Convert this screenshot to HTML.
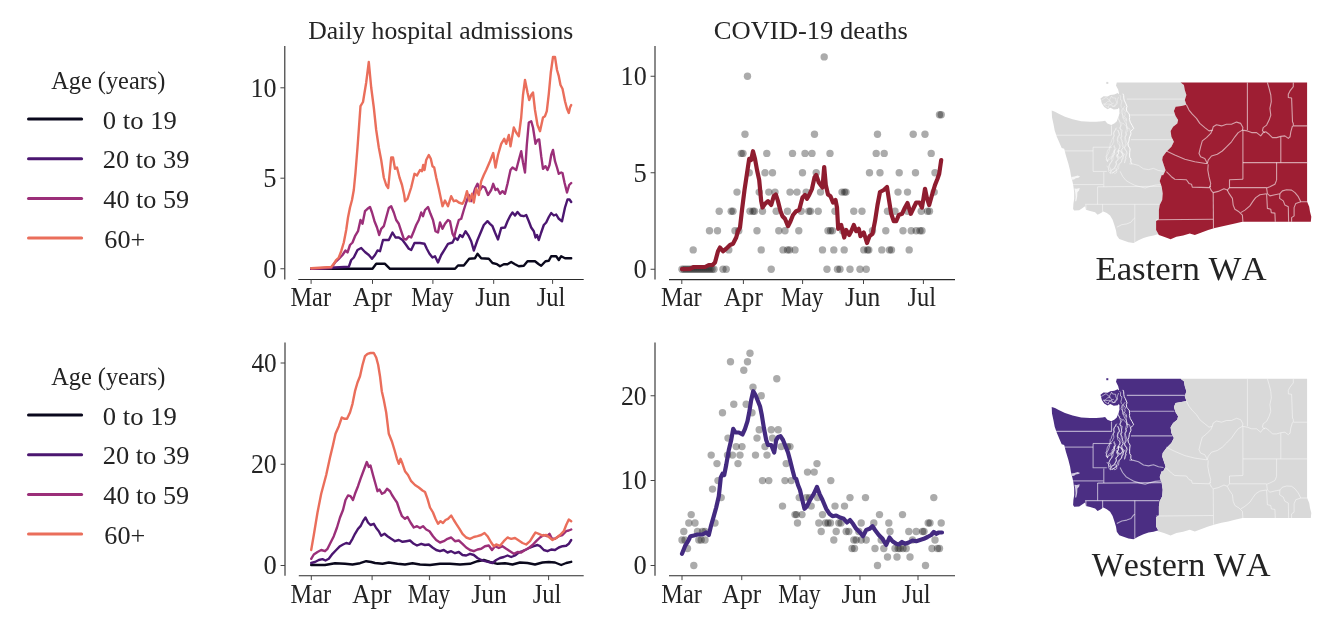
<!DOCTYPE html>
<html lang="en"><head><meta charset="utf-8"><title>COVID-19 hospital admissions and deaths, Eastern and Western WA</title>
<style>html,body{margin:0;padding:0;background:#fff}svg{display:block}</style></head>
<body>
<svg width="1341" height="629" viewBox="0 0 1341 629" font-family='"Liberation Serif", serif' fill="#242424" style="font-kerning:none">
<rect width="1341" height="629" fill="#fff"/>
<text x="308.16" y="39.1" font-size="26" textLength="265.17" lengthAdjust="spacingAndGlyphs">Daily hospital admissions</text>
<text x="713.71" y="39.2" font-size="26" textLength="194.25" lengthAdjust="spacingAndGlyphs">COVID-19 deaths</text>
<text x="51.26" y="88.7" font-size="25.5" textLength="114.11" lengthAdjust="spacingAndGlyphs">Age (years)</text>
<line x1="28.5" y1="119.0" x2="81.6" y2="119.0" stroke="#0a081c" stroke-width="3" stroke-linecap="round"/>
<text x="102.89" y="128.6" font-size="25" textLength="73.90" lengthAdjust="spacingAndGlyphs">0 to 19</text>
<line x1="28.5" y1="158.7" x2="81.6" y2="158.7" stroke="#4b1670" stroke-width="3" stroke-linecap="round"/>
<text x="102.74" y="168.3" font-size="25" textLength="86.65" lengthAdjust="spacingAndGlyphs">20 to 39</text>
<line x1="28.5" y1="198.4" x2="81.6" y2="198.4" stroke="#9b2f79" stroke-width="3" stroke-linecap="round"/>
<text x="103.39" y="208.0" font-size="25" textLength="85.78" lengthAdjust="spacingAndGlyphs">40 to 59</text>
<line x1="28.5" y1="238.1" x2="81.6" y2="238.1" stroke="#ea6e5b" stroke-width="3" stroke-linecap="round"/>
<text x="104.38" y="247.7" font-size="25" textLength="40.90" lengthAdjust="spacingAndGlyphs">60+</text>
<text x="51.26" y="384.7" font-size="25.5" textLength="114.11" lengthAdjust="spacingAndGlyphs">Age (years)</text>
<line x1="28.5" y1="415.0" x2="81.6" y2="415.0" stroke="#0a081c" stroke-width="3" stroke-linecap="round"/>
<text x="102.89" y="424.6" font-size="25" textLength="73.90" lengthAdjust="spacingAndGlyphs">0 to 19</text>
<line x1="28.5" y1="454.7" x2="81.6" y2="454.7" stroke="#4b1670" stroke-width="3" stroke-linecap="round"/>
<text x="102.74" y="464.3" font-size="25" textLength="86.65" lengthAdjust="spacingAndGlyphs">20 to 39</text>
<line x1="28.5" y1="494.4" x2="81.6" y2="494.4" stroke="#9b2f79" stroke-width="3" stroke-linecap="round"/>
<text x="103.39" y="504.0" font-size="25" textLength="85.78" lengthAdjust="spacingAndGlyphs">40 to 59</text>
<line x1="28.5" y1="534.1" x2="81.6" y2="534.1" stroke="#ea6e5b" stroke-width="3" stroke-linecap="round"/>
<text x="104.38" y="543.7" font-size="25" textLength="40.90" lengthAdjust="spacingAndGlyphs">60+</text>
<g stroke="#2a2a2a" stroke-width="1.1" fill="none">
<line x1="284.8" y1="46" x2="284.8" y2="279.5"/>
<line x1="298.3" y1="279.5" x2="583.7" y2="279.5"/>
<line x1="311.1" y1="279.5" x2="311.1" y2="283.9" stroke-width="1" stroke="#444"/>
<line x1="372.5" y1="279.5" x2="372.5" y2="283.9" stroke-width="1" stroke="#444"/>
<line x1="432.9" y1="279.5" x2="432.9" y2="283.9" stroke-width="1" stroke="#444"/>
<line x1="493.7" y1="279.5" x2="493.7" y2="283.9" stroke-width="1" stroke="#444"/>
<line x1="552.6" y1="279.5" x2="552.6" y2="283.9" stroke-width="1" stroke="#444"/>
<line x1="280.40000000000003" y1="268.75" x2="284.8" y2="268.75" stroke-width="1" stroke="#444"/>
<line x1="280.40000000000003" y1="178.2" x2="284.8" y2="178.2" stroke-width="1" stroke="#444"/>
<line x1="280.40000000000003" y1="87.8" x2="284.8" y2="87.8" stroke-width="1" stroke="#444"/>
</g>
<text x="290.40" y="306.3" font-size="26.5" textLength="40.62" lengthAdjust="spacingAndGlyphs">Mar</text>
<text x="352.75" y="306.3" font-size="26.5" textLength="39.17" lengthAdjust="spacingAndGlyphs">Apr</text>
<text x="411.24" y="306.3" font-size="26.5" textLength="42.25" lengthAdjust="spacingAndGlyphs">May</text>
<text x="475.16" y="306.3" font-size="26.5" textLength="35.42" lengthAdjust="spacingAndGlyphs">Jun</text>
<text x="536.69" y="306.3" font-size="26.5" textLength="28.61" lengthAdjust="spacingAndGlyphs">Jul</text>
<text x="263.26" y="277.6" font-size="26.5">0</text>
<text x="263.29" y="187.1" font-size="26.5">5</text>
<text x="250.41" y="96.7" font-size="26.5" textLength="26.09" lengthAdjust="spacingAndGlyphs">10</text>
<polyline points="311.2,268.8 372.5,268.8 376.2,263.8 385.0,263.8 390.0,268.8 455.0,268.8 458.0,265.5 463.8,265.5 469.2,258.8 475.0,258.2 477.5,253.8 481.2,258.2 488.8,258.8 492.5,263.0 497.0,264.2 500.0,266.2 503.8,264.2 507.5,264.2 511.2,262.0 515.0,264.2 518.8,266.2 523.8,265.8 527.5,261.2 535.0,261.2 538.8,264.2 541.2,265.8 545.5,261.2 548.8,260.8 551.2,256.2 556.2,256.2 558.8,260.0 561.2,256.2 565.0,258.2 571.2,258.2" fill="none" stroke="#0a081c" stroke-width="2.4" stroke-linejoin="round" stroke-linecap="round"/>
<polyline points="311.2,268.8 348.8,266.8 351.2,260.0 353.8,257.5 357.5,250.0 361.2,248.0 365.0,252.0 368.8,255.0 372.0,258.8 375.0,255.0 377.5,250.5 380.0,251.2 383.0,240.0 388.8,240.0 392.5,232.5 395.5,237.5 398.8,237.5 402.5,240.0 406.2,245.0 408.8,248.8 411.2,250.0 414.5,243.0 420.0,243.0 424.5,243.8 426.8,248.8 429.5,253.8 432.5,257.5 435.0,256.2 438.0,262.5 441.2,255.0 445.0,248.8 448.0,243.8 452.5,242.5 455.0,237.5 457.5,240.0 460.0,235.0 462.5,237.0 465.5,231.2 468.8,236.2 471.2,241.2 473.8,250.5 477.5,240.0 481.2,231.2 483.8,225.0 487.5,221.2 490.0,223.8 492.5,226.2 495.0,232.5 498.0,239.5 501.2,228.0 505.0,227.5 507.5,221.2 510.0,216.2 512.5,212.5 515.0,215.5 517.5,212.0 520.5,215.5 523.8,216.2 526.2,215.0 528.8,221.2 531.2,227.5 533.8,231.2 535.5,237.5 537.0,235.0 538.8,240.0 541.2,232.5 543.8,225.0 546.2,222.5 548.8,217.0 551.2,213.0 553.8,215.5 556.2,214.5 558.8,218.8 562.0,221.2 565.0,207.5 567.5,199.5 569.5,199.5 571.2,202.0" fill="none" stroke="#4b1670" stroke-width="2.4" stroke-linejoin="round" stroke-linecap="round"/>
<polyline points="311.2,268.8 331.2,268.0 335.0,262.5 338.8,258.8 342.5,255.0 345.5,250.5 347.5,252.5 350.0,245.0 352.5,242.5 355.0,236.2 358.0,231.2 360.5,220.0 362.5,223.8 365.0,211.2 367.5,208.8 370.0,207.0 372.0,212.5 374.5,221.2 377.0,227.5 379.2,235.0 381.2,228.8 383.8,226.2 386.2,217.5 388.8,208.0 391.2,206.2 393.8,212.5 396.2,220.0 398.8,223.8 401.2,231.2 403.8,238.8 406.2,239.5 408.8,236.2 411.2,237.5 413.8,231.2 416.2,225.0 418.8,220.0 421.2,212.5 423.0,216.2 425.0,210.0 428.0,207.0 430.5,213.8 433.0,220.0 435.5,231.2 438.0,232.5 440.0,222.5 442.5,228.8 445.0,223.8 448.0,220.0 450.0,221.2 452.5,233.8 454.2,237.0 456.2,228.8 458.8,220.0 461.2,218.8 463.8,210.0 466.2,202.5 468.8,195.0 471.2,201.2 475.0,188.8 477.5,183.8 480.0,190.0 482.5,186.2 485.0,187.5 488.0,195.0 491.2,190.0 493.2,183.8 495.5,190.0 497.5,188.8 500.0,193.8 502.5,191.2 505.0,193.8 507.5,183.8 510.5,170.0 512.5,167.5 516.2,170.0 518.8,160.0 521.2,151.2 523.0,162.5 525.0,172.5 526.8,145.0 528.8,122.5 531.2,121.2 533.0,127.5 535.5,143.8 537.5,140.0 539.2,139.5 541.2,156.2 543.0,168.8 545.5,166.2 547.5,170.0 549.5,165.0 551.2,155.0 553.0,150.0 555.0,161.2 557.0,167.5 558.8,173.8 561.2,172.5 562.5,173.0 564.5,182.5 567.0,192.5 569.2,185.0 571.2,183.0" fill="none" stroke="#9b2f79" stroke-width="2.4" stroke-linejoin="round" stroke-linecap="round"/>
<polyline points="311.2,268.2 331.2,267.0 333.8,263.8 336.2,260.0 338.8,257.5 341.2,251.2 343.8,242.5 346.2,230.0 348.0,217.5 350.0,207.5 352.0,200.0 353.8,190.0 355.5,172.5 357.5,147.5 360.5,106.2 363.0,102.0 366.2,82.5 368.8,62.0 371.2,87.5 373.8,107.5 376.2,130.0 378.8,147.5 381.2,160.0 383.8,177.5 386.2,185.0 388.2,188.0 390.0,170.0 391.2,157.5 393.0,157.5 395.0,168.8 397.0,167.5 399.5,177.5 402.0,185.0 404.2,195.0 405.0,201.2 407.5,198.8 411.2,187.5 414.5,173.8 417.0,175.5 420.0,170.0 422.0,171.2 423.2,165.0 424.5,170.0 426.2,160.0 428.8,155.0 430.8,158.8 432.5,166.2 434.2,167.5 436.2,177.5 438.8,188.8 441.2,200.0 442.5,206.2 445.0,200.5 448.0,206.2 451.2,196.2 453.8,201.2 456.2,200.5 458.8,202.5 462.5,203.8 464.5,200.0 467.0,191.2 469.5,201.2 472.0,193.8 473.8,202.5 476.2,188.8 478.8,195.0 481.2,181.2 483.8,175.0 486.2,170.0 490.0,161.2 493.2,153.0 495.5,167.5 498.0,155.0 501.2,143.8 504.2,138.8 506.2,143.8 508.8,135.0 510.5,146.2 513.8,127.5 516.2,132.5 518.8,136.2 521.2,117.5 523.0,95.0 525.0,80.0 527.5,92.5 529.2,100.0 531.2,95.0 533.0,92.5 535.0,110.0 537.5,125.0 540.0,131.2 543.0,117.5 545.0,116.2 546.8,111.2 548.8,93.8 550.8,72.5 553.0,57.0 555.0,57.0 557.0,70.0 558.8,76.2 560.5,85.0 562.5,88.8 565.0,101.2 567.0,108.8 568.8,113.0 570.0,107.5 571.2,105.0" fill="none" stroke="#ea6e5b" stroke-width="2.4" stroke-linejoin="round" stroke-linecap="round"/>
<g stroke="#2a2a2a" stroke-width="1.1" fill="none">
<line x1="655" y1="46" x2="655" y2="279.6"/>
<line x1="669" y1="279.6" x2="955" y2="279.6"/>
<line x1="681.8" y1="279.6" x2="681.8" y2="284.0" stroke-width="1" stroke="#444"/>
<line x1="743.4" y1="279.6" x2="743.4" y2="284.0" stroke-width="1" stroke="#444"/>
<line x1="802.6" y1="279.6" x2="802.6" y2="284.0" stroke-width="1" stroke="#444"/>
<line x1="863.5" y1="279.6" x2="863.5" y2="284.0" stroke-width="1" stroke="#444"/>
<line x1="923.4" y1="279.6" x2="923.4" y2="284.0" stroke-width="1" stroke="#444"/>
<line x1="650.6" y1="269.25" x2="655" y2="269.25" stroke-width="1" stroke="#444"/>
<line x1="650.6" y1="172.75" x2="655" y2="172.75" stroke-width="1" stroke="#444"/>
<line x1="650.6" y1="76.25" x2="655" y2="76.25" stroke-width="1" stroke="#444"/>
</g>
<text x="661.10" y="306.4" font-size="26.5" textLength="40.62" lengthAdjust="spacingAndGlyphs">Mar</text>
<text x="723.65" y="306.4" font-size="26.5" textLength="39.17" lengthAdjust="spacingAndGlyphs">Apr</text>
<text x="780.94" y="306.4" font-size="26.5" textLength="42.25" lengthAdjust="spacingAndGlyphs">May</text>
<text x="844.96" y="306.4" font-size="26.5" textLength="35.42" lengthAdjust="spacingAndGlyphs">Jun</text>
<text x="907.49" y="306.4" font-size="26.5" textLength="28.61" lengthAdjust="spacingAndGlyphs">Jul</text>
<text x="633.46" y="278.1" font-size="26.5">0</text>
<text x="633.49" y="181.7" font-size="26.5">5</text>
<text x="620.61" y="85.2" font-size="26.5" textLength="26.09" lengthAdjust="spacingAndGlyphs">10</text>
<g fill="#000" fill-opacity="0.33">
<circle cx="682.0" cy="269.2" r="3.7"/>
<circle cx="684.0" cy="269.2" r="3.7"/>
<circle cx="686.0" cy="269.2" r="3.7"/>
<circle cx="688.0" cy="269.2" r="3.7"/>
<circle cx="690.0" cy="269.2" r="3.7"/>
<circle cx="692.0" cy="269.2" r="3.7"/>
<circle cx="694.0" cy="269.2" r="3.7"/>
<circle cx="696.0" cy="269.2" r="3.7"/>
<circle cx="698.0" cy="269.2" r="3.7"/>
<circle cx="700.0" cy="269.2" r="3.7"/>
<circle cx="702.0" cy="269.2" r="3.7"/>
<circle cx="704.0" cy="269.2" r="3.7"/>
<circle cx="706.0" cy="269.2" r="3.7"/>
<circle cx="708.0" cy="269.2" r="3.7"/>
<circle cx="710.0" cy="269.2" r="3.7"/>
<circle cx="712.0" cy="269.2" r="3.7"/>
<circle cx="714.0" cy="269.2" r="3.7"/>
<circle cx="723.0" cy="269.2" r="3.7"/>
<circle cx="726.2" cy="269.2" r="3.7"/>
<circle cx="771.2" cy="269.2" r="3.7"/>
<circle cx="827.0" cy="269.2" r="3.7"/>
<circle cx="837.5" cy="269.2" r="3.7"/>
<circle cx="840.0" cy="269.2" r="3.7"/>
<circle cx="850.0" cy="269.2" r="3.7"/>
<circle cx="860.0" cy="269.2" r="3.7"/>
<circle cx="866.2" cy="269.2" r="3.7"/>
<circle cx="693.2" cy="249.9" r="3.7"/>
<circle cx="728.8" cy="249.9" r="3.7"/>
<circle cx="761.2" cy="249.9" r="3.7"/>
<circle cx="783.0" cy="249.9" r="3.7"/>
<circle cx="787.5" cy="249.9" r="3.7"/>
<circle cx="789.5" cy="249.9" r="3.7"/>
<circle cx="795.0" cy="249.9" r="3.7"/>
<circle cx="822.5" cy="249.9" r="3.7"/>
<circle cx="833.8" cy="249.9" r="3.7"/>
<circle cx="844.2" cy="249.9" r="3.7"/>
<circle cx="863.8" cy="249.9" r="3.7"/>
<circle cx="867.5" cy="249.9" r="3.7"/>
<circle cx="868.8" cy="249.9" r="3.7"/>
<circle cx="881.8" cy="249.9" r="3.7"/>
<circle cx="889.5" cy="249.9" r="3.7"/>
<circle cx="891.5" cy="249.9" r="3.7"/>
<circle cx="909.2" cy="249.9" r="3.7"/>
<circle cx="709.5" cy="230.7" r="3.7"/>
<circle cx="717.5" cy="230.7" r="3.7"/>
<circle cx="735.0" cy="230.7" r="3.7"/>
<circle cx="738.8" cy="230.7" r="3.7"/>
<circle cx="757.0" cy="230.7" r="3.7"/>
<circle cx="778.8" cy="230.7" r="3.7"/>
<circle cx="785.0" cy="230.7" r="3.7"/>
<circle cx="798.8" cy="230.7" r="3.7"/>
<circle cx="828.0" cy="230.7" r="3.7"/>
<circle cx="830.5" cy="230.7" r="3.7"/>
<circle cx="832.5" cy="230.7" r="3.7"/>
<circle cx="842.5" cy="230.7" r="3.7"/>
<circle cx="872.5" cy="230.7" r="3.7"/>
<circle cx="885.8" cy="230.7" r="3.7"/>
<circle cx="903.0" cy="230.7" r="3.7"/>
<circle cx="911.2" cy="230.7" r="3.7"/>
<circle cx="916.2" cy="230.7" r="3.7"/>
<circle cx="920.0" cy="230.7" r="3.7"/>
<circle cx="922.0" cy="230.7" r="3.7"/>
<circle cx="719.2" cy="211.3" r="3.7"/>
<circle cx="731.2" cy="211.3" r="3.7"/>
<circle cx="733.0" cy="211.3" r="3.7"/>
<circle cx="750.0" cy="211.3" r="3.7"/>
<circle cx="753.0" cy="211.3" r="3.7"/>
<circle cx="754.5" cy="211.3" r="3.7"/>
<circle cx="762.5" cy="211.3" r="3.7"/>
<circle cx="776.2" cy="211.3" r="3.7"/>
<circle cx="787.5" cy="211.3" r="3.7"/>
<circle cx="801.2" cy="211.3" r="3.7"/>
<circle cx="808.8" cy="211.3" r="3.7"/>
<circle cx="810.5" cy="211.3" r="3.7"/>
<circle cx="818.2" cy="211.3" r="3.7"/>
<circle cx="835.0" cy="211.3" r="3.7"/>
<circle cx="853.8" cy="211.3" r="3.7"/>
<circle cx="862.0" cy="211.3" r="3.7"/>
<circle cx="887.5" cy="211.3" r="3.7"/>
<circle cx="895.0" cy="211.3" r="3.7"/>
<circle cx="907.5" cy="211.3" r="3.7"/>
<circle cx="921.2" cy="211.3" r="3.7"/>
<circle cx="927.5" cy="211.3" r="3.7"/>
<circle cx="929.5" cy="211.3" r="3.7"/>
<circle cx="737.0" cy="192.1" r="3.7"/>
<circle cx="759.2" cy="192.1" r="3.7"/>
<circle cx="768.8" cy="192.1" r="3.7"/>
<circle cx="775.0" cy="192.1" r="3.7"/>
<circle cx="790.0" cy="192.1" r="3.7"/>
<circle cx="797.0" cy="192.1" r="3.7"/>
<circle cx="806.2" cy="192.1" r="3.7"/>
<circle cx="820.5" cy="192.1" r="3.7"/>
<circle cx="842.0" cy="192.1" r="3.7"/>
<circle cx="844.5" cy="192.1" r="3.7"/>
<circle cx="846.0" cy="192.1" r="3.7"/>
<circle cx="898.0" cy="192.1" r="3.7"/>
<circle cx="907.5" cy="192.1" r="3.7"/>
<circle cx="934.2" cy="192.1" r="3.7"/>
<circle cx="749.2" cy="172.8" r="3.7"/>
<circle cx="765.0" cy="172.8" r="3.7"/>
<circle cx="772.5" cy="172.8" r="3.7"/>
<circle cx="802.5" cy="172.8" r="3.7"/>
<circle cx="816.2" cy="172.8" r="3.7"/>
<circle cx="869.5" cy="172.8" r="3.7"/>
<circle cx="880.0" cy="172.8" r="3.7"/>
<circle cx="899.2" cy="172.8" r="3.7"/>
<circle cx="915.5" cy="172.8" r="3.7"/>
<circle cx="935.0" cy="172.8" r="3.7"/>
<circle cx="741.2" cy="153.4" r="3.7"/>
<circle cx="743.0" cy="153.4" r="3.7"/>
<circle cx="766.8" cy="153.4" r="3.7"/>
<circle cx="792.5" cy="153.4" r="3.7"/>
<circle cx="805.0" cy="153.4" r="3.7"/>
<circle cx="812.0" cy="153.4" r="3.7"/>
<circle cx="830.0" cy="153.4" r="3.7"/>
<circle cx="876.2" cy="153.4" r="3.7"/>
<circle cx="884.2" cy="153.4" r="3.7"/>
<circle cx="931.2" cy="153.4" r="3.7"/>
<circle cx="745.0" cy="134.2" r="3.7"/>
<circle cx="814.5" cy="134.2" r="3.7"/>
<circle cx="877.5" cy="134.2" r="3.7"/>
<circle cx="913.2" cy="134.2" r="3.7"/>
<circle cx="925.0" cy="134.2" r="3.7"/>
<circle cx="939.5" cy="114.8" r="3.7"/>
<circle cx="941.2" cy="114.8" r="3.7"/>
<circle cx="747.5" cy="76.2" r="3.7"/>
<circle cx="824.2" cy="56.9" r="3.7"/>
</g>
<polyline points="682.0,269.2 690.0,268.8 693.8,267.0 705.0,267.0 708.8,265.0 712.5,265.0 715.0,262.5 718.0,251.2 720.0,247.5 723.0,251.2 726.2,248.8 730.0,245.0 733.0,243.8 736.2,237.5 738.0,231.2 740.0,227.5 742.0,210.0 744.5,190.0 747.5,170.0 749.2,158.8 751.2,160.0 753.0,151.2 755.0,158.8 757.0,170.0 759.2,180.0 761.2,201.2 762.5,207.5 765.0,203.8 768.0,201.2 771.2,205.0 773.8,196.2 775.8,194.5 778.0,201.2 780.5,211.2 782.5,216.2 785.0,218.8 788.0,226.2 790.5,221.2 793.0,215.0 796.2,211.2 799.2,210.0 802.5,197.5 805.0,195.0 807.0,198.8 809.2,195.0 812.0,188.8 814.5,177.5 816.2,175.0 818.8,182.5 822.5,187.5 824.2,167.0 825.8,185.0 828.0,194.5 830.5,196.2 833.0,202.5 835.5,200.0 837.0,207.5 838.2,228.8 841.2,225.0 844.2,237.5 846.2,230.0 849.2,235.0 851.2,231.2 853.8,225.0 856.2,231.2 858.8,228.8 860.5,236.2 863.8,232.5 867.0,243.0 869.5,236.2 872.5,233.8 875.0,221.2 877.5,205.0 880.0,192.0 883.8,190.0 887.0,187.0 888.8,198.8 891.2,213.8 893.8,221.2 896.2,221.2 898.8,215.0 902.0,213.8 905.0,207.5 907.5,203.0 910.8,213.8 913.8,207.5 916.2,202.5 919.5,202.5 922.0,207.5 925.0,188.8 926.8,197.5 929.2,205.0 932.0,195.0 935.0,185.0 937.5,178.8 939.2,173.8 941.2,160.0" fill="none" stroke="#8f1c2f" stroke-width="4.2" stroke-linejoin="round" stroke-linecap="round"/>
<g stroke="#2a2a2a" stroke-width="1.1" fill="none">
<line x1="285" y1="342.5" x2="285" y2="575.7"/>
<line x1="298.8" y1="575.7" x2="583.7" y2="575.7"/>
<line x1="311.3" y1="575.7" x2="311.3" y2="580.1" stroke-width="1" stroke="#444"/>
<line x1="372.1" y1="575.7" x2="372.1" y2="580.1" stroke-width="1" stroke="#444"/>
<line x1="429.4" y1="575.7" x2="429.4" y2="580.1" stroke-width="1" stroke="#444"/>
<line x1="489.8" y1="575.7" x2="489.8" y2="580.1" stroke-width="1" stroke="#444"/>
<line x1="548.6" y1="575.7" x2="548.6" y2="580.1" stroke-width="1" stroke="#444"/>
<line x1="280.6" y1="565.5" x2="285" y2="565.5" stroke-width="1" stroke="#444"/>
<line x1="280.6" y1="464.25" x2="285" y2="464.25" stroke-width="1" stroke="#444"/>
<line x1="280.6" y1="363" x2="285" y2="363" stroke-width="1" stroke="#444"/>
</g>
<text x="290.60" y="602.5" font-size="26.5" textLength="40.62" lengthAdjust="spacingAndGlyphs">Mar</text>
<text x="352.35" y="602.5" font-size="26.5" textLength="39.17" lengthAdjust="spacingAndGlyphs">Apr</text>
<text x="407.74" y="602.5" font-size="26.5" textLength="42.25" lengthAdjust="spacingAndGlyphs">May</text>
<text x="471.26" y="602.5" font-size="26.5" textLength="35.42" lengthAdjust="spacingAndGlyphs">Jun</text>
<text x="532.69" y="602.5" font-size="26.5" textLength="28.61" lengthAdjust="spacingAndGlyphs">Jul</text>
<text x="263.46" y="574.4" font-size="26.5">0</text>
<text x="250.97" y="473.1" font-size="26.5" textLength="25.71" lengthAdjust="spacingAndGlyphs">20</text>
<text x="251.41" y="371.9" font-size="26.5" textLength="25.26" lengthAdjust="spacingAndGlyphs">40</text>
<polyline points="311.2,565.0 325.0,565.0 335.0,563.2 345.0,563.8 352.5,564.5 360.0,563.2 366.2,561.2 371.2,562.0 375.0,563.0 382.5,563.8 388.8,562.5 397.5,563.8 405.0,564.5 412.5,563.2 420.0,564.5 430.0,565.0 440.0,563.8 450.0,563.8 460.0,564.5 470.0,563.8 477.5,561.2 483.8,560.0 490.0,562.0 497.5,563.8 505.0,563.2 512.5,564.5 520.0,562.5 527.5,563.0 535.0,564.5 542.5,562.5 548.8,562.0 555.0,562.5 561.2,565.0 566.2,563.0 571.2,561.8" fill="none" stroke="#0a081c" stroke-width="2.4" stroke-linejoin="round" stroke-linecap="round"/>
<polyline points="311.2,563.0 315.0,562.0 318.8,560.0 322.5,559.2 325.5,560.5 328.8,558.8 332.5,553.8 336.2,550.0 340.0,546.2 343.0,544.5 346.2,543.0 349.5,543.8 352.5,538.8 355.0,533.8 358.0,528.8 360.5,526.2 363.0,521.2 365.5,517.5 368.0,522.5 370.5,525.0 373.8,523.8 376.2,528.0 378.8,531.2 381.2,535.8 384.5,533.8 387.5,536.2 391.2,538.8 395.0,541.2 398.8,540.0 402.5,541.8 406.2,541.2 410.0,540.5 413.8,543.8 417.0,545.5 421.2,543.8 425.0,545.0 428.8,544.5 432.5,547.5 436.2,550.0 440.0,551.2 443.8,550.0 447.5,552.5 451.2,551.2 455.0,553.2 458.8,552.0 462.5,555.0 466.2,555.5 470.0,553.8 473.8,555.0 477.5,558.0 481.2,560.0 485.0,561.2 488.8,562.0 492.5,563.0 496.2,560.0 500.0,558.0 503.8,557.0 507.5,555.5 511.2,557.0 515.0,555.5 518.8,552.5 522.5,551.2 526.2,549.5 530.0,547.5 533.8,546.2 537.5,545.0 540.0,546.2 543.8,550.0 547.5,551.2 551.2,549.5 555.0,550.0 558.8,547.5 562.5,546.2 566.2,545.8 568.8,543.8 571.2,540.0" fill="none" stroke="#4b1670" stroke-width="2.4" stroke-linejoin="round" stroke-linecap="round"/>
<polyline points="311.2,558.8 313.8,554.5 317.5,552.0 321.2,550.0 325.0,551.2 327.5,548.8 330.0,543.8 333.8,536.2 337.0,527.5 340.0,517.5 343.0,510.0 345.5,500.0 348.0,495.5 350.5,496.2 353.0,500.0 355.0,493.8 358.0,486.2 360.5,478.8 363.8,470.0 366.8,462.0 368.8,467.0 370.5,465.5 373.0,475.0 375.8,485.0 377.5,491.2 379.5,489.5 382.0,493.8 384.5,492.5 387.0,488.8 390.0,491.2 392.0,495.0 394.5,498.8 397.0,502.5 399.5,510.0 402.0,516.2 405.0,518.8 407.5,517.0 410.5,522.5 413.8,527.5 417.0,526.2 420.0,528.0 423.0,526.2 426.2,529.5 429.5,531.2 433.0,536.2 436.2,540.0 440.0,542.5 443.8,541.2 447.5,538.8 451.2,537.5 455.0,541.2 458.8,540.5 462.5,543.8 466.2,547.5 470.0,550.0 473.8,551.2 477.5,549.5 481.2,548.8 485.0,546.2 488.8,545.5 492.0,550.0 495.0,546.2 498.8,548.0 502.5,546.2 506.2,548.8 510.0,551.2 513.8,553.8 517.5,552.0 521.2,552.5 525.0,550.0 528.8,548.0 532.5,545.0 536.2,541.2 540.0,537.5 543.8,535.0 547.0,536.2 549.5,533.8 552.0,538.8 555.0,538.8 558.8,536.2 562.5,535.0 566.2,531.2 568.8,530.5 571.2,529.5" fill="none" stroke="#9b2f79" stroke-width="2.4" stroke-linejoin="round" stroke-linecap="round"/>
<polyline points="311.2,550.0 313.8,535.0 317.5,512.5 321.2,493.8 326.2,475.0 330.0,457.5 333.0,445.0 335.5,433.8 338.8,426.2 341.8,417.5 344.5,418.8 347.0,418.8 350.0,412.5 352.5,403.8 355.0,391.2 357.5,382.5 360.0,376.2 362.5,365.0 365.0,356.2 367.5,353.8 370.5,353.0 373.8,353.0 376.2,357.5 378.2,365.0 380.0,376.2 381.8,391.2 383.8,400.0 386.2,412.5 388.8,433.8 391.8,441.2 394.5,450.0 397.0,458.8 398.8,463.8 400.5,458.8 402.5,463.8 405.0,471.2 408.0,475.0 411.2,481.2 415.0,485.0 418.8,487.5 422.5,490.5 425.0,492.0 427.5,498.8 430.0,507.5 433.0,512.5 435.5,518.8 438.0,523.8 440.5,521.2 443.0,523.0 445.5,520.0 448.0,518.8 451.2,515.5 453.8,520.0 456.2,523.8 459.5,528.8 462.5,533.8 466.2,537.5 470.0,538.8 473.8,537.0 477.5,536.2 481.2,535.0 484.5,533.0 487.5,536.2 491.2,542.5 493.8,546.2 496.2,544.5 500.0,545.8 503.8,541.2 507.5,537.5 511.2,538.8 515.0,538.0 518.8,540.5 522.5,543.0 526.2,544.5 530.0,541.2 533.8,535.0 535.5,532.5 538.8,533.8 542.5,535.5 546.2,535.0 549.5,537.5 552.5,540.0 556.2,538.0 560.0,535.0 563.8,531.2 566.2,525.0 568.8,519.5 571.2,521.2" fill="none" stroke="#ea6e5b" stroke-width="2.4" stroke-linejoin="round" stroke-linecap="round"/>
<g stroke="#2a2a2a" stroke-width="1.1" fill="none">
<line x1="655" y1="342.5" x2="655" y2="575.7"/>
<line x1="669" y1="575.7" x2="955" y2="575.7"/>
<line x1="682" y1="575.7" x2="682" y2="580.1" stroke-width="1" stroke="#444"/>
<line x1="741.75" y1="575.7" x2="741.75" y2="580.1" stroke-width="1" stroke="#444"/>
<line x1="800" y1="575.7" x2="800" y2="580.1" stroke-width="1" stroke="#444"/>
<line x1="860" y1="575.7" x2="860" y2="580.1" stroke-width="1" stroke="#444"/>
<line x1="918" y1="575.7" x2="918" y2="580.1" stroke-width="1" stroke="#444"/>
<line x1="650.6" y1="565.5" x2="655" y2="565.5" stroke-width="1" stroke="#444"/>
<line x1="650.6" y1="480.5" x2="655" y2="480.5" stroke-width="1" stroke="#444"/>
<line x1="650.6" y1="395.75" x2="655" y2="395.75" stroke-width="1" stroke="#444"/>
</g>
<text x="661.30" y="602.5" font-size="26.5" textLength="40.62" lengthAdjust="spacingAndGlyphs">Mar</text>
<text x="722.00" y="602.5" font-size="26.5" textLength="39.17" lengthAdjust="spacingAndGlyphs">Apr</text>
<text x="778.34" y="602.5" font-size="26.5" textLength="42.25" lengthAdjust="spacingAndGlyphs">May</text>
<text x="841.46" y="602.5" font-size="26.5" textLength="35.42" lengthAdjust="spacingAndGlyphs">Jun</text>
<text x="902.09" y="602.5" font-size="26.5" textLength="28.61" lengthAdjust="spacingAndGlyphs">Jul</text>
<text x="633.46" y="574.4" font-size="26.5">0</text>
<text x="620.61" y="489.4" font-size="26.5" textLength="26.09" lengthAdjust="spacingAndGlyphs">10</text>
<text x="620.97" y="404.6" font-size="26.5" textLength="25.71" lengthAdjust="spacingAndGlyphs">20</text>
<g fill="#000" fill-opacity="0.33">
<circle cx="693.8" cy="565.5" r="3.7"/>
<circle cx="877.5" cy="565.5" r="3.7"/>
<circle cx="925.5" cy="565.5" r="3.7"/>
<circle cx="887.5" cy="557.0" r="3.7"/>
<circle cx="897.0" cy="557.0" r="3.7"/>
<circle cx="910.0" cy="557.0" r="3.7"/>
<circle cx="687.5" cy="548.5" r="3.7"/>
<circle cx="852.0" cy="548.5" r="3.7"/>
<circle cx="854.5" cy="548.5" r="3.7"/>
<circle cx="875.0" cy="548.5" r="3.7"/>
<circle cx="883.8" cy="548.5" r="3.7"/>
<circle cx="895.0" cy="548.5" r="3.7"/>
<circle cx="898.2" cy="548.5" r="3.7"/>
<circle cx="900.0" cy="548.5" r="3.7"/>
<circle cx="903.0" cy="548.5" r="3.7"/>
<circle cx="906.2" cy="548.5" r="3.7"/>
<circle cx="932.0" cy="548.5" r="3.7"/>
<circle cx="937.5" cy="548.5" r="3.7"/>
<circle cx="939.5" cy="548.5" r="3.7"/>
<circle cx="682.0" cy="540.0" r="3.7"/>
<circle cx="685.0" cy="540.0" r="3.7"/>
<circle cx="698.8" cy="540.0" r="3.7"/>
<circle cx="701.2" cy="540.0" r="3.7"/>
<circle cx="705.0" cy="540.0" r="3.7"/>
<circle cx="833.8" cy="540.0" r="3.7"/>
<circle cx="853.8" cy="540.0" r="3.7"/>
<circle cx="856.2" cy="540.0" r="3.7"/>
<circle cx="861.2" cy="540.0" r="3.7"/>
<circle cx="866.2" cy="540.0" r="3.7"/>
<circle cx="881.2" cy="540.0" r="3.7"/>
<circle cx="912.5" cy="540.0" r="3.7"/>
<circle cx="935.0" cy="540.0" r="3.7"/>
<circle cx="683.8" cy="531.5" r="3.7"/>
<circle cx="697.5" cy="531.5" r="3.7"/>
<circle cx="702.5" cy="531.5" r="3.7"/>
<circle cx="705.0" cy="531.5" r="3.7"/>
<circle cx="821.2" cy="531.5" r="3.7"/>
<circle cx="836.2" cy="531.5" r="3.7"/>
<circle cx="846.2" cy="531.5" r="3.7"/>
<circle cx="848.8" cy="531.5" r="3.7"/>
<circle cx="858.8" cy="531.5" r="3.7"/>
<circle cx="890.0" cy="531.5" r="3.7"/>
<circle cx="908.8" cy="531.5" r="3.7"/>
<circle cx="916.2" cy="531.5" r="3.7"/>
<circle cx="922.5" cy="531.5" r="3.7"/>
<circle cx="924.0" cy="531.5" r="3.7"/>
<circle cx="688.8" cy="523.0" r="3.7"/>
<circle cx="695.0" cy="523.0" r="3.7"/>
<circle cx="715.0" cy="523.0" r="3.7"/>
<circle cx="797.5" cy="523.0" r="3.7"/>
<circle cx="818.8" cy="523.0" r="3.7"/>
<circle cx="825.5" cy="523.0" r="3.7"/>
<circle cx="828.0" cy="523.0" r="3.7"/>
<circle cx="830.5" cy="523.0" r="3.7"/>
<circle cx="838.8" cy="523.0" r="3.7"/>
<circle cx="841.0" cy="523.0" r="3.7"/>
<circle cx="861.2" cy="523.0" r="3.7"/>
<circle cx="873.8" cy="523.0" r="3.7"/>
<circle cx="888.8" cy="523.0" r="3.7"/>
<circle cx="928.2" cy="523.0" r="3.7"/>
<circle cx="930.0" cy="523.0" r="3.7"/>
<circle cx="941.2" cy="523.0" r="3.7"/>
<circle cx="691.2" cy="514.6" r="3.7"/>
<circle cx="795.0" cy="514.6" r="3.7"/>
<circle cx="796.5" cy="514.6" r="3.7"/>
<circle cx="802.0" cy="514.6" r="3.7"/>
<circle cx="822.5" cy="514.6" r="3.7"/>
<circle cx="879.5" cy="514.6" r="3.7"/>
<circle cx="902.5" cy="514.6" r="3.7"/>
<circle cx="782.5" cy="506.1" r="3.7"/>
<circle cx="811.2" cy="506.1" r="3.7"/>
<circle cx="835.0" cy="506.1" r="3.7"/>
<circle cx="844.5" cy="506.1" r="3.7"/>
<circle cx="721.2" cy="497.6" r="3.7"/>
<circle cx="799.2" cy="497.6" r="3.7"/>
<circle cx="806.2" cy="497.6" r="3.7"/>
<circle cx="809.5" cy="497.6" r="3.7"/>
<circle cx="817.5" cy="497.6" r="3.7"/>
<circle cx="850.0" cy="497.6" r="3.7"/>
<circle cx="865.5" cy="497.6" r="3.7"/>
<circle cx="933.8" cy="497.6" r="3.7"/>
<circle cx="712.5" cy="489.1" r="3.7"/>
<circle cx="718.0" cy="480.6" r="3.7"/>
<circle cx="762.5" cy="480.6" r="3.7"/>
<circle cx="768.8" cy="480.6" r="3.7"/>
<circle cx="785.0" cy="480.6" r="3.7"/>
<circle cx="791.2" cy="480.6" r="3.7"/>
<circle cx="830.8" cy="480.6" r="3.7"/>
<circle cx="807.5" cy="472.1" r="3.7"/>
<circle cx="814.2" cy="472.1" r="3.7"/>
<circle cx="717.0" cy="463.6" r="3.7"/>
<circle cx="738.0" cy="463.6" r="3.7"/>
<circle cx="786.2" cy="463.6" r="3.7"/>
<circle cx="817.0" cy="463.6" r="3.7"/>
<circle cx="711.2" cy="455.1" r="3.7"/>
<circle cx="727.5" cy="455.1" r="3.7"/>
<circle cx="732.5" cy="455.1" r="3.7"/>
<circle cx="740.0" cy="455.1" r="3.7"/>
<circle cx="755.5" cy="455.1" r="3.7"/>
<circle cx="767.0" cy="455.1" r="3.7"/>
<circle cx="736.2" cy="446.6" r="3.7"/>
<circle cx="742.0" cy="446.6" r="3.7"/>
<circle cx="765.0" cy="446.6" r="3.7"/>
<circle cx="781.2" cy="446.6" r="3.7"/>
<circle cx="787.5" cy="446.6" r="3.7"/>
<circle cx="790.0" cy="446.6" r="3.7"/>
<circle cx="728.0" cy="438.1" r="3.7"/>
<circle cx="757.0" cy="438.1" r="3.7"/>
<circle cx="772.5" cy="438.1" r="3.7"/>
<circle cx="759.2" cy="429.7" r="3.7"/>
<circle cx="771.2" cy="429.7" r="3.7"/>
<circle cx="778.2" cy="429.7" r="3.7"/>
<circle cx="722.5" cy="412.7" r="3.7"/>
<circle cx="752.0" cy="412.7" r="3.7"/>
<circle cx="733.8" cy="404.2" r="3.7"/>
<circle cx="746.2" cy="404.2" r="3.7"/>
<circle cx="761.2" cy="395.7" r="3.7"/>
<circle cx="753.0" cy="387.2" r="3.7"/>
<circle cx="776.8" cy="378.7" r="3.7"/>
<circle cx="743.8" cy="370.2" r="3.7"/>
<circle cx="730.5" cy="361.7" r="3.7"/>
<circle cx="747.5" cy="361.7" r="3.7"/>
<circle cx="750.0" cy="353.2" r="3.7"/>
</g>
<polyline points="682.0,553.8 685.0,546.2 688.0,541.2 690.5,536.2 693.8,535.5 697.5,534.5 702.5,534.5 706.2,532.5 708.8,535.0 711.2,525.0 713.8,516.2 716.2,507.5 718.8,496.2 720.8,477.5 722.5,473.8 724.2,475.0 726.2,465.0 728.8,450.0 731.2,440.0 733.2,428.8 735.5,432.5 738.8,432.5 742.5,434.5 745.0,428.8 747.5,421.2 749.2,412.5 751.2,400.0 753.2,391.2 755.5,395.0 757.5,400.0 760.0,406.2 761.8,415.0 763.8,427.5 766.2,440.0 768.0,445.0 771.2,445.0 774.2,452.5 776.2,440.0 778.2,437.0 780.5,436.2 783.0,440.0 785.0,445.0 788.0,452.5 790.0,460.0 792.5,470.0 794.5,477.5 796.2,478.8 798.0,485.0 800.0,490.0 802.0,498.8 804.5,508.8 807.0,506.2 810.0,500.0 813.8,493.8 817.0,487.0 819.5,493.8 822.5,500.0 826.2,508.8 829.5,513.8 832.5,516.2 836.2,515.5 840.0,517.5 843.8,518.8 847.0,522.5 850.0,520.0 853.0,523.8 856.2,528.8 860.0,532.5 863.0,536.2 866.2,530.0 869.5,528.8 872.5,526.2 875.0,530.0 878.8,535.0 882.5,538.8 886.2,545.0 889.5,537.5 892.5,541.2 896.2,543.8 898.8,544.5 902.0,542.0 905.0,543.8 908.8,542.5 912.5,540.5 916.2,541.2 920.0,540.0 923.8,538.8 927.5,537.0 931.2,535.0 933.8,532.0 936.2,533.8 938.8,532.5 942.0,532.5" fill="none" stroke="#432a80" stroke-width="4.2" stroke-linejoin="round" stroke-linecap="round"/>
<polygon points="1180.6,82.5 1183.9,85.0 1184.8,90.0 1186.4,95.0 1184.8,100.0 1186.4,104.7 1181.4,105.9 1175.6,106.7 1173.9,110.9 1175.6,115.9 1178.1,120.1 1177.3,123.4 1173.1,126.8 1170.6,130.9 1171.4,136.8 1173.9,141.8 1171.4,146.8 1166.4,151.8 1162.7,156.8 1162.2,160.1 1163.9,165.2 1165.6,170.2 1163.1,175.2 1161.7,175.0 1159.7,180.9 1161.7,186.7 1162.7,193.4 1162.2,200.1 1159.7,205.1 1158.9,210.1 1158.9,219.3 1156.1,221.0 1156.1,230.1 1158.9,235.1 1157.7,234.2 1153.5,235.6 1148.5,236.4 1143.5,238.1 1138.5,240.2 1133.5,243.1 1128.5,242.2 1123.5,240.6 1119.3,238.9 1116.8,235.6 1116.0,230.6 1114.3,224.7 1112.6,219.7 1110.1,215.5 1106.8,213.0 1103.4,211.4 1100.9,213.0 1097.6,214.7 1095.1,212.2 1090.1,210.9 1085.9,209.7 1085.1,206.3 1079.2,210.2 1074.2,210.5 1073.1,208.9 1073.4,203.8 1074.2,198.8 1074.2,192.2 1073.4,186.3 1072.6,182.1 1070.9,175.5 1070.1,170.5 1068.4,163.8 1065.9,155.4 1064.2,148.8 1061.7,148.0 1059.2,142.2 1056.7,136.4 1054.7,130.5 1053.4,123.8 1052.0,117.2 1051.7,110.6 1055.0,111.8 1058.7,113.8 1065.0,116.7 1072.6,119.2 1081.2,121.2 1089.9,121.8 1096.3,121.8 1102.4,121.3 1105.1,120.7 1107.4,123.5 1111.3,125.0 1114.6,123.3 1116.8,121.2 1118.1,117.2 1119.5,113.5 1119.1,108.0 1118.5,102.1 1118.1,97.5 1119.1,93.4 1118.1,89.6 1116.0,85.4 1116.8,82.4" fill="#d9d9d9"/>
<polygon points="1180.6,82.5 1183.9,85.0 1184.8,90.0 1186.4,95.0 1184.8,100.0 1186.4,104.7 1181.4,105.9 1175.6,106.7 1173.9,110.9 1175.6,115.9 1178.1,120.1 1177.3,123.4 1173.1,126.8 1170.6,130.9 1171.4,136.8 1173.9,141.8 1171.4,146.8 1166.4,151.8 1162.7,156.8 1162.2,160.1 1163.9,165.2 1165.6,170.2 1163.1,175.2 1161.7,175.0 1159.7,180.9 1161.7,186.7 1162.7,193.4 1162.2,200.1 1159.7,205.1 1158.9,210.1 1158.9,219.3 1156.1,221.0 1156.1,230.1 1158.9,235.1 1163.9,236.8 1170.6,239.3 1176.4,236.8 1183.1,235.5 1189.8,233.5 1194.8,235.1 1201.5,232.6 1208.2,230.1 1214.8,228.1 1221.5,226.5 1228.2,225.1 1234.9,223.5 1242.4,221.8 1310.8,221.8 1311.3,216.8 1310.0,211.8 1309.2,206.8 1307.1,201.8 1307.1,82.5" fill="#9e1e33"/>
<polygon points="1100.5,98.5 1103.5,96.3 1107.6,96.6 1110.3,95.0 1114.3,94.4 1117.7,93.1 1120.3,95.5 1120.8,100.9 1120.0,106.3 1117.8,109.0 1113.8,109.4 1110.3,107.8 1107.6,109.2 1104.2,107.1 1101.9,103.6" fill="#d9d9d9"/>
<polygon points="1106.3,81.9 1108.3,81.9 1108.3,83.9 1106.3,83.9" fill="#d9d9d9"/>
<g fill="none" stroke="#fff" stroke-width="1.1" stroke-opacity="0.58" stroke-linejoin="round">
<polyline points="1247.4,82.5 1247.4,130.1"/>
<polyline points="1267.4,82.5 1269.1,88.4 1270.8,95.0 1271.3,101.7 1269.9,108.4 1270.8,115.1 1269.1,120.1 1266.6,125.1 1263.2,127.6 1262.4,130.9 1264.9,132.6"/>
<polyline points="1293.3,82.5 1293.3,86.7 1290.0,90.9 1288.3,94.2 1288.3,97.5 1291.6,98.0 1292.5,121.7 1293.3,123.4 1293.3,125.9 1307.1,125.9"/>
<polyline points="1292.5,125.9 1290.8,131.8 1290.0,137.1"/>
<polyline points="1242.4,130.1 1247.4,130.9 1251.6,132.6 1256.6,132.6 1260.7,135.9 1263.2,132.6 1265.7,131.8 1269.1,134.3 1272.4,137.6 1276.6,137.6 1280.8,136.4 1284.9,135.9 1288.3,138.4 1290.0,136.8"/>
<polyline points="1280.8,136.8 1280.8,162.6"/>
<polyline points="1186.4,104.7 1189.0,110.1 1192.3,114.2 1196.5,118.4 1199.8,123.4 1204.8,127.6 1209.0,130.9 1212.3,130.1 1213.2,126.8 1216.5,124.7 1221.5,125.9 1226.5,124.2 1231.5,124.2 1236.5,122.1 1240.7,123.4 1242.9,127.6 1242.4,130.1"/>
<polyline points="1242.4,130.1 1238.2,132.6 1234.9,136.8 1231.5,141.8 1226.5,146.8 1222.3,151.0 1217.3,154.3 1211.5,156.0 1208.2,160.1 1207.3,163.5"/>
<polyline points="1212.3,130.1 1210.7,133.4 1206.5,137.6 1202.3,140.9 1200.6,146.8 1199.0,153.5 1200.6,156.8 1204.8,158.5 1206.1,161.0 1207.3,163.5"/>
<polyline points="1166.4,151.0 1174.8,155.1 1184.8,159.3 1194.8,161.8 1205.6,163.5 1207.3,163.5"/>
<polyline points="1242.9,130.1 1242.9,179.2"/>
<polyline points="1242.9,162.6 1307.1,162.6"/>
<polyline points="1276.6,162.6 1276.6,180.0"/>
<polyline points="1166.4,171.7 1171.4,176.7 1174.8,179.2 1186.4,179.7 1189.0,183.4 1191.5,184.2 1192.3,187.1 1209.0,187.6 1210.7,185.9"/>
<polyline points="1208.2,164.2 1207.8,170.0 1209.0,176.7 1210.7,183.4 1209.8,187.6 1211.5,190.9 1213.2,192.6"/>
<polyline points="1242.9,179.2 1229.5,179.7 1229.5,187.6 1227.3,190.1 1224.0,188.7 1218.2,191.4 1213.2,192.6"/>
<polyline points="1213.2,192.6 1213.5,228.5"/>
<polyline points="1156.1,219.8 1213.2,219.3"/>
<polyline points="1227.3,190.1 1229.0,193.4 1232.4,198.4 1233.2,205.1 1234.9,209.3 1239.0,211.8 1242.4,215.1 1242.9,221.8"/>
<polyline points="1240.7,212.6 1244.9,210.1 1249.9,205.9 1253.2,200.9 1255.7,197.6 1259.9,194.7 1266.6,193.7"/>
<polyline points="1229.5,187.6 1266.6,187.6"/>
<polyline points="1276.6,180.1 1274.9,184.2 1269.9,186.7 1266.6,188.1 1267.4,193.7 1269.9,195.9 1274.9,194.7 1279.9,193.7 1282.4,190.9 1286.6,189.7 1291.6,190.1 1295.0,192.6 1298.3,196.7 1300.8,201.8 1307.1,201.8"/>
<polyline points="1266.6,193.7 1267.4,208.4 1270.8,209.3 1271.3,212.6 1274.9,213.1 1275.3,221.8"/>
<polyline points="1279.9,193.7 1279.6,198.4 1283.3,200.9 1284.9,205.1 1288.3,206.8 1288.6,221.8"/>
<polyline points="1300.8,201.8 1295.8,203.4 1294.1,207.6 1294.1,215.9 1291.6,217.6 1291.6,221.8"/>
</g>
<g fill="none" stroke="#fff" stroke-width="0.8" stroke-opacity="0.6" stroke-linejoin="round">
<polyline points="1126.8,99.1 1184.9,99.1"/>
<polyline points="1130.2,115.0 1174.4,115.0"/>
<polyline points="1131.0,139.7 1172.7,139.7"/>
<polyline points="1129.3,163.8 1133.5,164.1 1138.5,165.4 1143.5,168.8 1148.5,169.6 1153.5,168.4 1158.5,170.5 1163.5,171.3"/>
<polyline points="1055.9,135.2 1111.5,135.2 1111.5,125.5"/>
<polyline points="1064.2,150.9 1093.1,150.9"/>
<polyline points="1093.1,147.2 1093.1,171.4 1106.8,171.4"/>
<polyline points="1093.1,147.2 1111.8,147.2"/>
<polyline points="1072.6,184.6 1103.4,184.6"/>
<polyline points="1103.8,172.1 1103.8,186.8"/>
<polyline points="1097.6,186.8 1161.0,186.3"/>
<polyline points="1097.6,186.8 1097.6,204.3"/>
<polyline points="1085.1,204.3 1159.4,204.3"/>
<polyline points="1120.1,171.3 1122.6,176.3 1126.0,180.5 1130.2,183.0 1134.3,185.1 1140.2,186.8 1145.2,188.0 1150.2,186.3 1155.2,185.1 1161.0,184.6"/>
<polyline points="1085.9,204.7 1085.9,209.7"/>
<polyline points="1102.6,204.3 1102.6,213.0"/>
<polyline points="1134.8,204.3 1134.8,242.2"/>
<polyline points="1116.8,227.2 1121.8,224.7 1126.8,223.9 1131.0,222.2 1133.5,218.9 1134.8,218.0"/>
</g>
<g fill="none" stroke="#fff" stroke-width="0.7" stroke-opacity="0.5" stroke-linejoin="round">
<polyline points="1119.4,109.2 1118.5,111.6 1118.4,115.3 1118.3,117.1 1118.2,119.6 1120.7,122.5 1122.4,123.5 1120.9,126.2 1119.5,127.9 1120.8,129.9 1121.6,133.9 1121.2,135.5 1121.1,139.5 1121.4,141.4 1123.2,144.9 1123.3,147.6 1121.7,149.4 1122.7,153.0 1124.7,154.3 1122.5,157.1 1121.9,160.3 1121.6,161.9 1119.4,164.3 1118.8,166.6 1118.6,168.9 1115.0,171.4 1112.3,173.2"/>
<polyline points="1122.8,108.1 1122.9,111.9 1122.5,114.3 1122.6,115.6 1123.0,118.1 1123.7,119.3 1124.8,121.9 1126.3,124.0 1126.8,126.6 1126.4,129.4 1125.5,132.7 1126.2,134.0 1124.9,137.1 1125.7,139.3 1127.2,143.8 1125.9,145.5 1124.6,147.4 1125.8,150.4 1127.4,152.9 1125.5,157.2 1126.3,158.3 1125.4,160.1 1124.5,163.1"/>
<polyline points="1115.7,128.2 1116.0,129.7 1114.5,131.1 1113.9,133.9 1114.2,136.2 1113.4,137.3 1113.9,141.1 1113.0,143.0 1112.1,145.1 1110.0,146.9 1109.2,148.2 1107.4,150.9 1106.8,154.0 1107.1,156.2 1106.0,160.0 1107.8,161.2 1108.0,159.1 1109.7,157.3 1111.9,156.6 1113.7,153.6 1114.0,152.2 1114.3,149.6"/>
<polyline points="1116.9,129.6 1119.2,132.6 1119.6,134.7 1117.9,138.0 1117.8,140.7 1120.0,142.6 1119.8,146.4 1119.8,147.5 1117.9,150.2 1118.5,153.9 1116.0,156.3 1118.2,158.3 1117.4,160.5 1116.0,161.4 1116.6,164.7 1113.7,168.7 1111.5,170.6 1110.3,173.2"/>
<polyline points="1114.3,144.9 1114.2,147.1 1115.2,149.7 1114.5,151.8 1113.6,155.1 1113.2,156.6 1112.9,159.8 1111.3,161.9 1110.3,163.1 1109.6,164.1 1108.8,166.5 1108.6,169.8 1110.3,171.2"/>
<polyline points="1116.4,152.2 1119.9,150.3 1121.5,152.0 1122.8,155.8 1120.0,157.5 1117.9,155.9 1117.0,153.9"/>
<polyline points="1106.8,165.8 1109.0,169.0 1108.4,171.3 1110.5,173.6 1113.3,172.2 1114.9,173.7 1117.0,172.1 1115.7,167.8"/>
<polyline points="1119.5,94.9 1120.6,96.0 1120.5,99.8 1122.0,100.5 1121.4,103.5 1120.9,105.1 1121.4,107.7"/>
<polyline points="1122.9,122.9 1126.4,126.7 1126.8,128.0 1129.5,128.6 1130.5,131.7"/>
<polyline points="1125.2,105.9 1123.6,107.9 1123.6,109.0 1125.6,111.7 1124.7,112.9 1125.2,114.8 1124.3,116.8 1126.3,118.2 1126.8,121.2"/>
<polyline points="1119.2,108.9 1117.1,111.3 1118.0,114.5 1117.2,118.1 1119.8,120.4 1119.4,120.9 1120.6,124.6 1120.5,124.9 1120.2,129.0 1122.2,130.0 1121.5,134.4 1122.1,136.6 1120.3,137.6 1122.7,141.3 1122.0,145.3 1123.0,147.6 1121.1,150.5 1121.8,153.2 1123.7,154.5 1123.2,158.8 1121.8,159.4 1121.5,161.7 1119.4,163.5 1117.9,165.7 1117.2,168.0 1115.7,170.6 1112.3,173.2"/>
<polyline points="1122.4,108.2 1121.7,110.1 1121.1,112.5 1123.4,115.9 1123.0,117.7 1125.7,119.1 1126.2,122.4 1126.6,125.8 1127.6,127.3 1127.7,130.9 1126.1,132.9 1126.5,135.0 1125.2,137.0 1124.8,139.1 1125.4,143.4 1125.3,144.6 1124.3,149.1 1127.0,151.4 1126.2,152.9 1125.9,156.2 1125.3,158.9 1124.7,162.2 1124.5,163.1"/>
<polyline points="1116.9,127.4 1114.7,130.5 1114.5,130.9 1113.3,133.0 1114.1,135.6 1112.9,137.9 1112.0,139.5 1111.3,142.1 1110.2,143.4 1110.0,146.2 1109.7,149.2 1109.0,151.8 1107.9,154.6 1105.9,155.9 1106.4,158.1 1107.5,161.8 1107.4,160.6 1111.3,158.3 1112.2,156.6 1112.0,153.7 1113.7,152.5 1114.3,149.6"/>
<polyline points="1118.5,130.1 1118.6,133.0 1119.5,135.2 1117.9,136.2 1117.2,139.7 1118.0,143.7 1120.2,145.8 1119.7,148.7 1118.6,149.6 1118.5,153.9 1116.8,155.7 1117.6,156.9 1118.3,159.7 1115.6,161.8 1116.3,163.7 1114.3,169.0 1111.6,169.5 1110.3,173.2"/>
<polyline points="1113.6,146.0 1115.4,147.8 1116.0,148.5 1114.1,151.3 1115.0,153.8 1113.7,155.4 1111.6,158.4 1111.9,161.5 1110.7,162.5 1109.6,165.0 1108.8,166.1 1110.6,168.4 1110.3,171.2"/>
<polyline points="1118.3,153.4 1118.2,150.1 1122.7,153.2 1122.6,154.6 1120.1,158.6 1117.6,156.5 1117.0,153.9"/>
<polyline points="1101.3,100.3 1106.2,97.3 1107.8,99.2 1109.8,100.7 1109.6,99.6 1111.6,96.0 1112.5,97.8 1115.6,98.0 1115.8,100.3 1117.3,103.8 1115.0,105.6 1115.4,106.1 1113.6,106.4 1111.5,104.2 1108.6,105.8 1108.5,107.6 1105.3,106.0 1103.5,103.9 1104.3,104.3 1106.0,103.0 1107.8,101.4 1110.3,101.2 1111.7,103.6 1113.8,103.1"/>
<polyline points="1103.8,103.7 1105.5,104.4 1108.6,104.0 1110.1,104.2 1112.2,106.5 1114.3,106.3 1115.2,104.2 1117.5,102.3 1117.2,100.8 1117.5,99.6 1118.6,96.9"/>
<polygon points="1071.4,177.1 1074.4,176.6 1077.7,175.6 1080.1,176.6 1078.4,177.8 1075.7,178.3 1074.1,179.5 1072.1,179.8" fill="#fff" fill-opacity="0.75" stroke="none"/>
<polygon points="1074.4,188.5 1076.7,188.8 1079.7,188.0 1079.1,190.5 1077.4,192.2 1077.2,196.8 1076.2,201.2 1075.2,201.2 1075.6,196.8 1075.2,192.5" fill="#fff" fill-opacity="0.75" stroke="none"/>
<polyline points="1122.9,93.7 1123.7,95.6 1123.8,98.0 1124.2,100.2 1125.2,102.2 1125.9,103.7 1127.1,106.8 1126.3,108.0 1126.7,111.0 1127.6,112.3 1129.2,113.8 1129.7,117.5 1129.4,119.3 1130.3,122.3 1132.1,125.4 1133.7,128.4 1132.4,129.7 1130.6,131.6 1131.0,133.9 1130.0,136.2 1129.3,138.1 1128.9,141.1 1128.0,143.2 1128.3,146.0 1129.2,147.2 1130.1,149.0 1129.7,152.6 1129.6,155.0 1129.7,157.2 1130.9,159.1 1130.8,162.1 1131.9,163.8" stroke-width="1" stroke-opacity="0.9"/>
</g>
<text x="1095.40" y="279.9" font-size="34" textLength="171.16" lengthAdjust="spacingAndGlyphs">Eastern WA</text>
<polygon points="1180.6,378.8 1183.9,381.3 1184.8,386.3 1186.4,391.3 1184.8,396.3 1186.4,401.0 1181.4,402.1 1175.6,403.0 1173.9,407.1 1175.6,412.2 1178.1,416.3 1177.3,419.7 1173.1,423.0 1170.6,427.2 1171.4,433.0 1173.9,438.0 1171.4,443.0 1166.4,448.0 1162.7,453.1 1162.2,456.4 1163.9,461.4 1165.6,466.4 1163.1,471.4 1161.7,471.3 1159.7,477.1 1161.7,483.0 1162.7,489.7 1162.2,496.3 1159.7,501.3 1158.9,506.4 1158.9,515.5 1156.1,517.2 1156.1,526.4 1158.9,531.4 1157.7,530.5 1153.5,531.8 1148.5,532.6 1143.5,534.3 1138.5,536.5 1133.5,539.3 1128.5,538.5 1123.5,536.8 1119.3,535.2 1116.8,531.8 1116.0,526.8 1114.3,521.0 1112.6,516.0 1110.1,511.8 1106.8,509.3 1103.4,507.6 1100.9,509.3 1097.6,510.9 1095.1,508.4 1090.1,507.1 1085.9,505.9 1085.1,502.6 1079.2,506.4 1074.2,506.8 1073.1,505.1 1073.4,500.1 1074.2,495.1 1074.2,488.4 1073.4,482.6 1072.6,478.4 1070.9,471.7 1070.1,466.7 1068.4,460.0 1065.9,451.7 1064.2,445.0 1061.7,444.3 1059.2,438.4 1056.7,432.6 1054.7,426.8 1053.4,420.1 1052.0,413.4 1051.7,406.9 1055.0,408.1 1058.7,410.1 1065.0,412.9 1072.6,415.4 1081.2,417.4 1089.9,418.1 1096.3,418.1 1102.4,417.6 1105.1,416.9 1107.4,419.7 1111.3,421.3 1114.6,419.6 1116.8,417.4 1118.1,413.4 1119.5,409.7 1119.1,404.2 1118.5,398.4 1118.1,393.7 1119.1,389.7 1118.1,385.9 1116.0,381.7 1116.8,378.7" fill="#4b2e83"/>
<polygon points="1180.6,378.8 1183.9,381.3 1184.8,386.3 1186.4,391.3 1184.8,396.3 1186.4,401.0 1181.4,402.1 1175.6,403.0 1173.9,407.1 1175.6,412.2 1178.1,416.3 1177.3,419.7 1173.1,423.0 1170.6,427.2 1171.4,433.0 1173.9,438.0 1171.4,443.0 1166.4,448.0 1162.7,453.1 1162.2,456.4 1163.9,461.4 1165.6,466.4 1163.1,471.4 1161.7,471.3 1159.7,477.1 1161.7,483.0 1162.7,489.7 1162.2,496.3 1159.7,501.3 1158.9,506.4 1158.9,515.5 1156.1,517.2 1156.1,526.4 1158.9,531.4 1163.9,533.1 1170.6,535.6 1176.4,533.1 1183.1,531.7 1189.8,529.7 1194.8,531.4 1201.5,528.9 1208.2,526.4 1214.8,524.4 1221.5,522.7 1228.2,521.4 1234.9,519.7 1242.4,518.0 1310.8,518.0 1311.3,513.0 1310.0,508.0 1309.2,503.0 1307.1,498.0 1307.1,378.8" fill="#d9d9d9"/>
<polygon points="1100.5,394.7 1103.5,392.6 1107.6,392.8 1110.3,391.2 1114.3,390.7 1117.7,389.3 1120.3,391.8 1120.8,397.2 1120.0,402.6 1117.8,405.3 1113.8,405.7 1110.3,404.1 1107.6,405.4 1104.2,403.4 1101.9,399.9" fill="#4b2e83"/>
<polygon points="1106.3,378.2 1108.3,378.2 1108.3,380.2 1106.3,380.2" fill="#4b2e83"/>
<g fill="none" stroke="#fff" stroke-width="0.8" stroke-opacity="0.6" stroke-linejoin="round">
<polyline points="1247.4,378.8 1247.4,426.3"/>
<polyline points="1267.4,378.8 1269.1,384.6 1270.8,391.3 1271.3,398.0 1269.9,404.6 1270.8,411.3 1269.1,416.3 1266.6,421.3 1263.2,423.8 1262.4,427.2 1264.9,428.8"/>
<polyline points="1293.3,378.8 1293.3,382.9 1290.0,387.1 1288.3,390.4 1288.3,393.8 1291.6,394.3 1292.5,418.0 1293.3,419.7 1293.3,422.2 1307.1,422.2"/>
<polyline points="1292.5,422.2 1290.8,428.0 1290.0,433.4"/>
<polyline points="1242.4,426.3 1247.4,427.2 1251.6,428.8 1256.6,428.8 1260.7,432.2 1263.2,428.8 1265.7,428.0 1269.1,430.5 1272.4,433.9 1276.6,433.9 1280.8,432.7 1284.9,432.2 1288.3,434.7 1290.0,433.0"/>
<polyline points="1280.8,433.0 1280.8,458.9"/>
<polyline points="1186.4,401.0 1189.0,406.3 1192.3,410.5 1196.5,414.7 1199.8,419.7 1204.8,423.8 1209.0,427.2 1212.3,426.3 1213.2,423.0 1216.5,421.0 1221.5,422.2 1226.5,420.5 1231.5,420.5 1236.5,418.3 1240.7,419.7 1242.9,423.8 1242.4,426.3"/>
<polyline points="1242.4,426.3 1238.2,428.8 1234.9,433.0 1231.5,438.0 1226.5,443.0 1222.3,447.2 1217.3,450.5 1211.5,452.2 1208.2,456.4 1207.3,459.7"/>
<polyline points="1212.3,426.3 1210.7,429.7 1206.5,433.9 1202.3,437.2 1200.6,443.0 1199.0,449.7 1200.6,453.1 1204.8,454.7 1206.1,457.2 1207.3,459.7"/>
<polyline points="1166.4,447.2 1174.8,451.4 1184.8,455.6 1194.8,458.1 1205.6,459.7 1207.3,459.7"/>
<polyline points="1242.9,426.3 1242.9,475.4"/>
<polyline points="1242.9,458.9 1307.1,458.9"/>
<polyline points="1276.6,458.9 1276.6,476.3"/>
<polyline points="1166.4,468.0 1171.4,473.0 1174.8,475.5 1186.4,476.0 1189.0,479.6 1191.5,480.5 1192.3,483.3 1209.0,483.8 1210.7,482.1"/>
<polyline points="1208.2,460.4 1207.8,466.3 1209.0,473.0 1210.7,479.6 1209.8,483.8 1211.5,487.2 1213.2,488.8"/>
<polyline points="1242.9,475.5 1229.5,476.0 1229.5,483.8 1227.3,486.3 1224.0,485.0 1218.2,487.7 1213.2,488.8"/>
<polyline points="1213.2,488.8 1213.5,524.7"/>
<polyline points="1156.1,516.0 1213.2,515.5"/>
<polyline points="1227.3,486.3 1229.0,489.7 1232.4,494.7 1233.2,501.3 1234.9,505.5 1239.0,508.0 1242.4,511.4 1242.9,518.0"/>
<polyline points="1240.7,508.9 1244.9,506.4 1249.9,502.2 1253.2,497.2 1255.7,493.8 1259.9,491.0 1266.6,490.0"/>
<polyline points="1229.5,483.8 1266.6,483.8"/>
<polyline points="1276.6,476.3 1274.9,480.5 1269.9,483.0 1266.6,484.3 1267.4,490.0 1269.9,492.2 1274.9,491.0 1279.9,490.0 1282.4,487.2 1286.6,486.0 1291.6,486.3 1295.0,488.8 1298.3,493.0 1300.8,498.0 1307.1,498.0"/>
<polyline points="1266.6,490.0 1267.4,504.7 1270.8,505.5 1271.3,508.9 1274.9,509.4 1275.3,518.0"/>
<polyline points="1279.9,490.0 1279.6,494.7 1283.3,497.2 1284.9,501.3 1288.3,503.0 1288.6,518.0"/>
<polyline points="1300.8,498.0 1295.8,499.7 1294.1,503.8 1294.1,512.2 1291.6,513.9 1291.6,518.0"/>
</g>
<g fill="none" stroke="#fff" stroke-width="1.1" stroke-opacity="0.58" stroke-linejoin="round">
<polyline points="1126.8,395.4 1184.9,395.4"/>
<polyline points="1130.2,411.2 1174.4,411.2"/>
<polyline points="1131.0,435.9 1172.7,435.9"/>
<polyline points="1129.3,460.0 1133.5,460.4 1138.5,461.7 1143.5,465.0 1148.5,465.9 1153.5,464.7 1158.5,466.7 1163.5,467.5"/>
<polyline points="1055.9,431.4 1111.5,431.4 1111.5,421.8"/>
<polyline points="1064.2,447.1 1093.1,447.1"/>
<polyline points="1093.1,443.5 1093.1,467.7 1106.8,467.7"/>
<polyline points="1093.1,443.5 1111.8,443.5"/>
<polyline points="1072.6,480.9 1103.4,480.9"/>
<polyline points="1103.8,468.4 1103.8,483.1"/>
<polyline points="1097.6,483.1 1161.0,482.6"/>
<polyline points="1097.6,483.1 1097.6,500.6"/>
<polyline points="1085.1,500.6 1159.4,500.6"/>
<polyline points="1120.1,467.5 1122.6,472.5 1126.0,476.7 1130.2,479.2 1134.3,481.4 1140.2,483.1 1145.2,484.2 1150.2,482.6 1155.2,481.4 1161.0,480.9"/>
<polyline points="1085.9,500.9 1085.9,505.9"/>
<polyline points="1102.6,500.6 1102.6,509.3"/>
<polyline points="1134.8,500.6 1134.8,538.5"/>
<polyline points="1116.8,523.5 1121.8,521.0 1126.8,520.1 1131.0,518.5 1133.5,515.1 1134.8,514.3"/>
</g>
<g fill="none" stroke="#fff" stroke-width="0.7" stroke-opacity="0.8" stroke-linejoin="round">
<polyline points="1119.4,405.5 1118.5,407.9 1118.4,411.6 1118.3,413.4 1118.2,415.8 1120.7,418.8 1122.4,419.7 1120.9,422.5 1119.5,424.1 1120.8,426.1 1121.6,430.1 1121.2,431.8 1121.1,435.7 1121.4,437.6 1123.2,441.2 1123.3,443.8 1121.7,445.6 1122.7,449.3 1124.7,450.5 1122.5,453.4 1121.9,456.6 1121.6,458.2 1119.4,460.5 1118.8,462.8 1118.6,465.1 1115.0,467.7 1112.3,469.5"/>
<polyline points="1122.8,404.4 1122.9,408.2 1122.5,410.6 1122.6,411.8 1123.0,414.3 1123.7,415.6 1124.8,418.1 1126.3,420.3 1126.8,422.8 1126.4,425.6 1125.5,429.0 1126.2,430.2 1124.9,433.3 1125.7,435.6 1127.2,440.0 1125.9,441.7 1124.6,443.7 1125.8,446.7 1127.4,449.2 1125.5,453.5 1126.3,454.6 1125.4,456.4 1124.5,459.3"/>
<polyline points="1115.7,424.5 1116.0,425.9 1114.5,427.3 1113.9,430.1 1114.2,432.4 1113.4,433.5 1113.9,437.3 1113.0,439.2 1112.1,441.3 1110.0,443.1 1109.2,444.4 1107.4,447.2 1106.8,450.2 1107.1,452.5 1106.0,456.2 1107.8,457.4 1108.0,455.4 1109.7,453.6 1111.9,452.8 1113.7,449.8 1114.0,448.4 1114.3,445.8"/>
<polyline points="1116.9,425.9 1119.2,428.8 1119.6,430.9 1117.9,434.2 1117.8,437.0 1120.0,438.8 1119.8,442.7 1119.8,443.8 1117.9,446.5 1118.5,450.1 1116.0,452.5 1118.2,454.6 1117.4,456.7 1116.0,457.7 1116.6,461.0 1113.7,464.9 1111.5,466.8 1110.3,469.5"/>
<polyline points="1114.3,441.2 1114.2,443.4 1115.2,446.0 1114.5,448.0 1113.6,451.4 1113.2,452.8 1112.9,456.1 1111.3,458.1 1110.3,459.4 1109.6,460.4 1108.8,462.7 1108.6,466.0 1110.3,467.4"/>
<polyline points="1116.4,448.5 1119.9,446.6 1121.5,448.3 1122.8,452.1 1120.0,453.8 1117.9,452.1 1117.0,450.1"/>
<polyline points="1106.8,462.0 1109.0,465.2 1108.4,467.6 1110.5,469.9 1113.3,468.5 1114.9,469.9 1117.0,468.3 1115.7,464.1"/>
<polyline points="1119.5,391.2 1120.6,392.3 1120.5,396.0 1122.0,396.8 1121.4,399.7 1120.9,401.4 1121.4,403.9"/>
<polyline points="1122.9,419.1 1126.4,423.0 1126.8,424.3 1129.5,424.8 1130.5,428.0"/>
<polyline points="1125.2,402.2 1123.6,404.1 1123.6,405.2 1125.6,408.0 1124.7,409.2 1125.2,411.0 1124.3,413.0 1126.3,414.4 1126.8,417.4"/>
<polyline points="1119.2,405.1 1117.1,407.5 1118.0,410.7 1117.2,414.3 1119.8,416.6 1119.4,417.2 1120.6,420.9 1120.5,421.2 1120.2,425.3 1122.2,426.3 1121.5,430.7 1122.1,432.8 1120.3,433.8 1122.7,437.5 1122.0,441.5 1123.0,443.9 1121.1,446.7 1121.8,449.5 1123.7,450.8 1123.2,455.0 1121.8,455.7 1121.5,458.0 1119.4,459.8 1117.9,461.9 1117.2,464.2 1115.7,466.9 1112.3,469.5"/>
<polyline points="1122.4,404.4 1121.7,406.4 1121.1,408.7 1123.4,412.2 1123.0,414.0 1125.7,415.4 1126.2,418.6 1126.6,422.0 1127.6,423.5 1127.7,427.1 1126.1,429.1 1126.5,431.3 1125.2,433.3 1124.8,435.4 1125.4,439.7 1125.3,440.9 1124.3,445.3 1127.0,447.6 1126.2,449.2 1125.9,452.5 1125.3,455.1 1124.7,458.5 1124.5,459.3"/>
<polyline points="1116.9,423.6 1114.7,426.8 1114.5,427.2 1113.3,429.3 1114.1,431.9 1112.9,434.1 1112.0,435.7 1111.3,438.3 1110.2,439.6 1110.0,442.4 1109.7,445.4 1109.0,448.0 1107.9,450.9 1105.9,452.1 1106.4,454.4 1107.5,458.1 1107.4,456.8 1111.3,454.5 1112.2,452.8 1112.0,449.9 1113.7,448.7 1114.3,445.8"/>
<polyline points="1118.5,426.4 1118.6,429.3 1119.5,431.4 1117.9,432.4 1117.2,436.0 1118.0,439.9 1120.2,442.1 1119.7,444.9 1118.6,445.9 1118.5,450.2 1116.8,452.0 1117.6,453.1 1118.3,456.0 1115.6,458.0 1116.3,459.9 1114.3,465.3 1111.6,465.8 1110.3,469.5"/>
<polyline points="1113.6,442.2 1115.4,444.1 1116.0,444.7 1114.1,447.5 1115.0,450.0 1113.7,451.6 1111.6,454.7 1111.9,457.8 1110.7,458.8 1109.6,461.3 1108.8,462.4 1110.6,464.6 1110.3,467.4"/>
<polyline points="1118.3,449.6 1118.2,446.4 1122.7,449.5 1122.6,450.9 1120.1,454.8 1117.6,452.8 1117.0,450.1"/>
<polyline points="1101.3,396.5 1106.2,393.6 1107.8,395.5 1109.8,397.0 1109.6,395.9 1111.6,392.2 1112.5,394.0 1115.6,394.3 1115.8,396.6 1117.3,400.0 1115.0,401.8 1115.4,402.3 1113.6,402.6 1111.5,400.4 1108.6,402.0 1108.5,403.9 1105.3,402.3 1103.5,400.1 1104.3,400.5 1106.0,399.3 1107.8,397.7 1110.3,397.5 1111.7,399.9 1113.8,399.3"/>
<polyline points="1103.8,399.9 1105.5,400.7 1108.6,400.3 1110.1,400.4 1112.2,402.7 1114.3,402.5 1115.2,400.4 1117.5,398.6 1117.2,397.1 1117.5,395.8 1118.6,393.1"/>
<polygon points="1071.4,473.4 1074.4,472.9 1077.7,471.9 1080.1,472.9 1078.4,474.0 1075.7,474.5 1074.1,475.7 1072.1,476.1" fill="#fff" fill-opacity="0.75" stroke="none"/>
<polygon points="1074.4,484.7 1076.7,485.1 1079.7,484.2 1079.1,486.7 1077.4,488.4 1077.2,493.1 1076.2,497.4 1075.2,497.4 1075.6,493.1 1075.2,488.7" fill="#fff" fill-opacity="0.75" stroke="none"/>
<polyline points="1122.9,389.9 1123.7,391.8 1123.8,394.3 1124.2,396.5 1125.2,398.4 1125.9,400.0 1127.1,403.0 1126.3,404.2 1126.7,407.2 1127.6,408.5 1129.2,410.0 1129.7,413.8 1129.4,415.5 1130.3,418.6 1132.1,421.6 1133.7,424.7 1132.4,425.9 1130.6,427.8 1131.0,430.2 1130.0,432.4 1129.3,434.4 1128.9,437.3 1128.0,439.5 1128.3,442.3 1129.2,443.5 1130.1,445.3 1129.7,448.9 1129.6,451.2 1129.7,453.5 1130.9,455.4 1130.8,458.4 1131.9,460.0" stroke-width="1" stroke-opacity="0.9"/>
</g>
<text x="1091.67" y="576.1" font-size="34" textLength="178.88" lengthAdjust="spacingAndGlyphs">Western WA</text>
</svg>
</body></html>
